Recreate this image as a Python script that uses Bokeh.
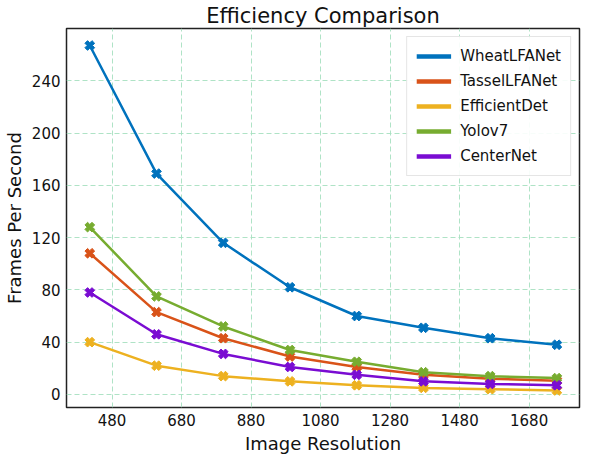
import math
from bokeh.plotting import figure
from bokeh.models import ColumnDataSource, Legend, LegendItem, FixedTicker, Range1d
from bokeh.embed import file_html
from bokeh.resources import INLINE

resolutions = [416, 608, 800, 992, 1184, 1376, 1568, 1760]
wheat_lfanet = [267, 169, 116, 82, 60, 51, 43, 38]
tassel_lfanet = [108, 63, 43, 29, 21, 15, 12, 10.5]
efficientdet = [40, 22, 14, 10, 7, 5, 4, 3]
yolov7 = [128, 75, 52, 34, 25, 17, 14, 12.5]
centernet = [78, 46, 31, 21, 15, 10, 8, 7]

series_names = ["WheatLFANet", "TasselLFANet", "EfficientDet", "Yolov7", "CenterNet"]
series_values = [wheat_lfanet, tassel_lfanet, efficientdet, yolov7, centernet]
colors = ["#0072BD", "#D95319", "#EDB120", "#77AC30", "#7A0CD2"]

x_ticks = [480, 680, 880, 1080, 1280, 1480, 1680]
y_ticks = [0, 40, 80, 120, 160, 200, 240]

FONT = "DejaVu Sans"

p = figure(width=581, height=456, output_backend="svg", toolbar_location=None,
           x_range=Range1d(349, 1825), y_range=Range1d(-10, 280),
           title="Efficiency Comparison",
           min_border_left=2, min_border_right=2, min_border_top=2, min_border_bottom=2)

p.title.text_font = FONT
p.title.text_font_size = "21px"
p.title.text_font_style = "normal"
p.title.align = "center"
p.title.text_color = "#111111"
p.title.standoff = 2

p.outline_line_color = "#222222"
p.outline_line_width = 1.5
p.outline_line_alpha = 1.0

for ax in (p.xaxis[0], p.yaxis[0]):
    ax.axis_line_color = None
    ax.major_tick_line_color = None
    ax.minor_tick_line_color = None
    ax.major_tick_out = 0
    ax.major_tick_in = 0
    ax.minor_tick_out = 0
    ax.minor_tick_in = 0
    ax.major_label_text_font = FONT
    ax.major_label_text_font_size = "15px"
    ax.major_label_text_color = "#111111"
    ax.axis_label_text_font = FONT
    ax.axis_label_text_font_size = "18px"
    ax.axis_label_text_font_style = "normal"
    ax.axis_label_text_color = "#111111"

p.xaxis.axis_label = "Image Resolution"
p.yaxis.axis_label = "Frames Per Second"
p.xaxis.ticker = FixedTicker(ticks=x_ticks)
p.yaxis.ticker = FixedTicker(ticks=y_ticks)
p.xaxis.major_label_standoff = 6
p.yaxis.major_label_standoff = 6
p.xaxis.axis_label_standoff = 4
p.yaxis.axis_label_standoff = 4

p.grid.grid_line_color = "#a6e0c0"
p.grid.grid_line_dash = "5 3"
p.grid.grid_line_width = 1
p.grid.grid_line_alpha = 0.9

items = []
for name, vals, col in zip(series_names, series_values, colors):
    src = ColumnDataSource(data=dict(x=resolutions, y=vals))
    p.line("x", "y", source=src, line_color=col, line_width=2.5)
    p.scatter("x", "y", source=src, marker="plus", angle=math.pi / 4, size=10,
              fill_color=col, line_color=col, line_width=1)
    leg = p.line(x=[math.nan], y=[math.nan], line_color=col, line_width=4.5)
    items.append(LegendItem(label=name, renderers=[leg]))

legend = Legend(items=items, location="top_right",
                label_text_font=FONT, label_text_font_size="15px",
                label_text_color="#111111",
                glyph_width=35, glyph_height=20, label_standoff=9,
                spacing=5, padding=9, margin=8,
                border_line_color="#cccccc", border_line_width=1.2,
                background_fill_alpha=0.9)
p.add_layout(legend)

open("out.html", "w").write(file_html(p, INLINE))
